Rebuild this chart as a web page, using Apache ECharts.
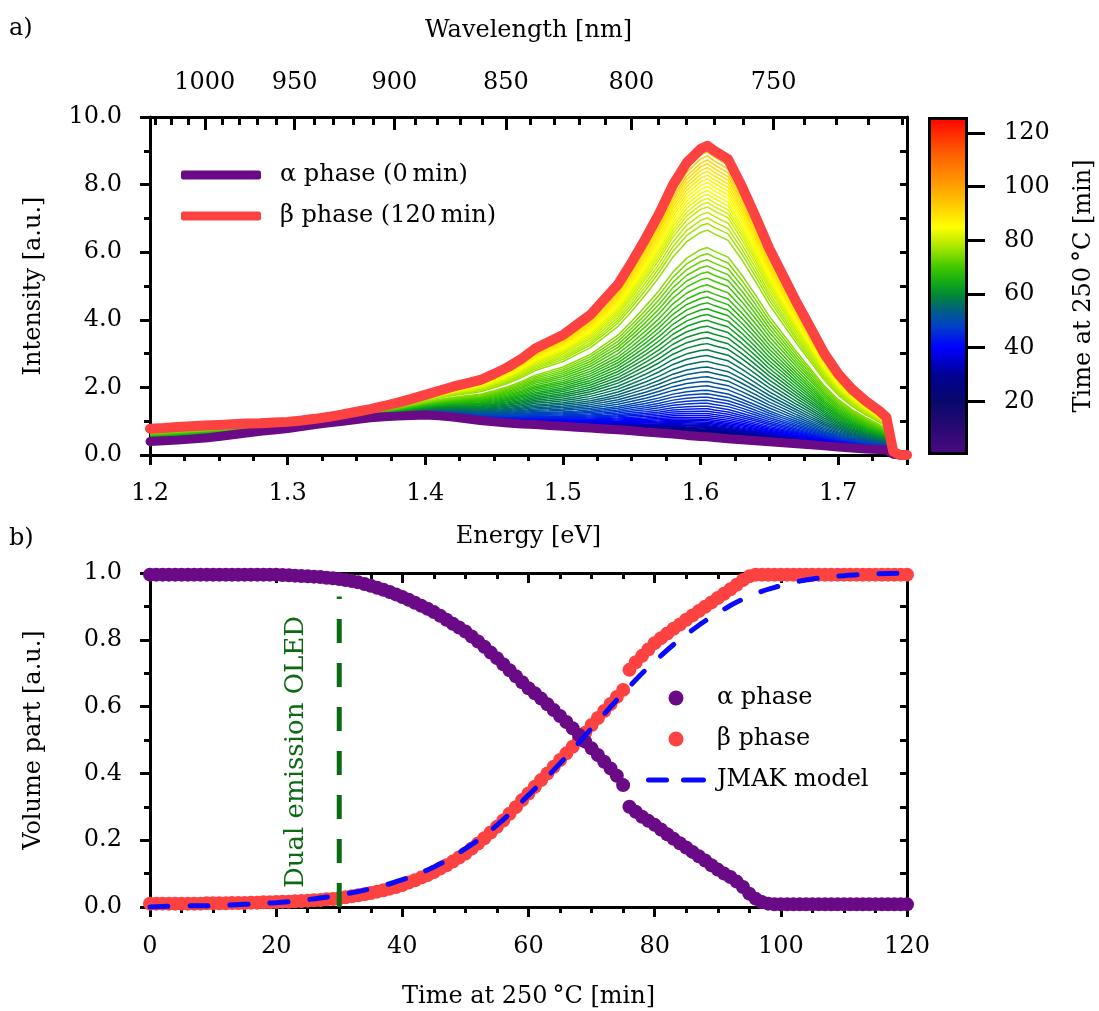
<!DOCTYPE html>
<html><head><meta charset="utf-8">
<script src="https://cdn.jsdelivr.net/npm/echarts@6/dist/echarts.min.js"></script>
<style>html,body{margin:0;padding:0;background:#fff}#c{width:1099px;height:1011px}</style>
</head><body><div id="c"></div>
<script>
// ---------- data ----------
const energy = [1.20,1.21,1.22,1.23,1.24,1.25,1.26,1.27,1.28,1.29,1.30,1.31,1.32,1.33,1.34,1.35,1.36,1.37,1.38,1.39,1.40,1.41,1.42,1.43,1.44,1.45,1.46,1.47,1.48,1.49,1.50,1.51,1.52,1.53,1.54,1.55,1.56,1.57,1.58,1.59,1.60,1.605,1.61,1.62,1.63,1.64,1.65,1.66,1.67,1.68,1.69,1.70,1.71,1.72,1.73,1.735,1.74,1.745,1.75];
const alphaSpectrum = [0.40,0.42,0.44,0.47,0.50,0.55,0.60,0.65,0.70,0.74,0.78,0.84,0.90,0.95,1.00,1.05,1.10,1.13,1.15,1.17,1.18,1.16,1.12,1.07,1.02,0.98,0.95,0.92,0.90,0.87,0.85,0.82,0.80,0.77,0.75,0.72,0.68,0.65,0.62,0.58,0.55,0.54,0.52,0.48,0.45,0.42,0.39,0.36,0.33,0.30,0.27,0.24,0.21,0.18,0.16,0.15,0.02,0.00,0.00];
const betaSpectrum = [0.78,0.80,0.83,0.85,0.87,0.89,0.91,0.93,0.94,0.96,0.98,1.02,1.07,1.13,1.20,1.28,1.36,1.45,1.55,1.66,1.78,1.90,2.02,2.12,2.22,2.40,2.60,2.85,3.15,3.35,3.55,3.85,4.15,4.60,5.05,5.70,6.40,7.15,8.00,8.65,9.05,9.15,9.00,8.75,7.95,7.05,6.10,5.30,4.50,3.75,3.00,2.40,1.95,1.60,1.30,1.12,0.10,0.00,0.00];

const times = [0,1,2,3,4,5,6,7,8,9,10,11,12,13,14,15,16,17,18,19,20,21,22,23,24,25,26,27,28,29,30,31,32,33,34,35,36,37,38,39,40,41,42,43,44,45,46,47,48,49,50,51,52,53,54,55,56,57,58,59,60,61,62,63,64,65,66,67,68,69,70,71,72,73,74,75,76,77,78,79,80,81,82,83,84,85,86,87,88,89,90,91,92,93,94,95,96,97,98,99,100,101,102,103,104,105,106,107,108,109,110,111,112,113,114,115,116,117,118,119,120];
const alphaPart = [0.995,0.995,0.995,0.995,0.995,0.995,0.995,0.995,0.995,0.995,0.995,0.995,0.995,0.995,0.995,0.995,0.995,0.995,0.995,0.995,0.995,0.994,0.993,0.992,0.991,0.990,0.989,0.988,0.986,0.984,0.982,0.979,0.976,0.972,0.967,0.962,0.956,0.950,0.943,0.936,0.928,0.920,0.911,0.902,0.893,0.883,0.872,0.860,0.848,0.837,0.825,0.810,0.795,0.779,0.762,0.745,0.727,0.709,0.691,0.673,0.655,0.640,0.624,0.607,0.590,0.572,0.554,0.535,0.515,0.495,0.475,0.455,0.435,0.415,0.393,0.365,0.300,0.285,0.270,0.258,0.246,0.232,0.218,0.204,0.191,0.178,0.165,0.152,0.139,0.125,0.112,0.100,0.090,0.076,0.060,0.040,0.025,0.015,0.010,0.008,0.008,0.008,0.008,0.008,0.008,0.008,0.008,0.008,0.008,0.008,0.008,0.008,0.008,0.008,0.008,0.008,0.008,0.008,0.008,0.008,0.008];
const betaPart = [0.010,0.010,0.010,0.010,0.010,0.010,0.010,0.010,0.010,0.011,0.011,0.011,0.011,0.012,0.012,0.012,0.013,0.013,0.014,0.014,0.015,0.016,0.016,0.017,0.018,0.019,0.020,0.021,0.023,0.024,0.026,0.029,0.032,0.035,0.038,0.042,0.046,0.050,0.055,0.060,0.066,0.073,0.080,0.088,0.096,0.105,0.115,0.125,0.136,0.148,0.160,0.175,0.190,0.206,0.223,0.240,0.259,0.279,0.299,0.320,0.340,0.360,0.380,0.400,0.420,0.440,0.460,0.480,0.500,0.522,0.545,0.566,0.587,0.608,0.629,0.650,0.710,0.733,0.752,0.771,0.790,0.805,0.819,0.833,0.846,0.860,0.873,0.886,0.899,0.912,0.925,0.938,0.951,0.965,0.979,0.990,0.995,0.995,0.995,0.995,0.995,0.995,0.995,0.995,0.995,0.995,0.995,0.995,0.995,0.995,0.995,0.995,0.995,0.995,0.995,0.995,0.995,0.995,0.995,0.995,0.995];

const jmakTimes = [0,5,10,15,20,25,30,35,40,45,50,55,60,65,70,75,80,85,90,95,100,105,110,115,120];
const jmakValues = [0.000,0.003,0.004,0.008,0.013,0.022,0.036,0.055,0.082,0.120,0.175,0.245,0.335,0.430,0.535,0.640,0.735,0.815,0.880,0.930,0.962,0.982,0.992,0.997,1.000];

const wavelengthLabels = [1000,950,900,850,800,750];
const wavelengthMinor = [1030,1020,1010,990,980,970,960,940,930,920,910,890,880,870,860,840,830,820,810,790,780,770,760,740,730,720,710];
const colorbarTicks = [20,40,60,80,100,120];
const oledTime = [30, 30];
const oledLevel = [0, 0.93];

// ---------- styling ----------
const EV_NM = 1239.84;
const FONT = 'DejaVu Serif';
const FS = 24;
const PURPLE = '#6b0a86', RED = '#fd4242', BLUE = '#0a0aff', GREEN = '#0b6b12';
const CMAP_MIN = 0, CMAP_MAX = 126;
const cmap = [
  [0,'#4b0a80'],[20,'#08086a'],[30,'#000095'],[40,'#0000ff'],[48,'#0040c8'],[54,'#006080'],
  [59,'#00843c'],[64,'#10a818'],[70,'#40c800'],[78,'#b0e800'],[85,'#ffff00'],[95,'#ffc000'],
  [102,'#ff9600'],[112,'#ff6000'],[126,'#ff0000']
];
function hex2rgb(h){return [parseInt(h.slice(1,3),16),parseInt(h.slice(3,5),16),parseInt(h.slice(5,7),16)];}
function colorAt(v){
  if (v <= cmap[0][0]) return cmap[0][1];
  for (let i=1;i<cmap.length;i++){
    if (v <= cmap[i][0]){
      const a=cmap[i-1], b=cmap[i]; const f=(v-a[0])/(b[0]-a[0]);
      const ca=hex2rgb(a[1]), cb=hex2rgb(b[1]);
      return 'rgb('+ca.map((c,k)=>Math.round(c+(cb[k]-c)*f)).join(',')+')';
    }
  }
  return cmap[cmap.length-1][1];
}

const txt = {fontFamily: FONT, fontSize: FS, color: '#000'};
const axLine = {show: true, onZero: false, lineStyle: {color: '#000', width: 3}};
const tickStyle = {color: '#000', width: 3};
const dashIcon = 'path://M2.5,0h18a2.5,2.5 0 0 1 0,5h-18a2.5,2.5 0 0 1 0,-5z M37.5,0h20a2.5,2.5 0 0 1 0,5h-20a2.5,2.5 0 0 1 0,-5z';

const series = [];
// spectra, one per time step
times.forEach((t, k) => {
  series.push({
    type: 'line', xAxisIndex: 0, yAxisIndex: 0, silent: true, symbol: 'none', z: 2,
    data: energy.map((e, i) => [e, alphaSpectrum[i] + betaPart[k] * (betaSpectrum[i] - alphaSpectrum[i])]),
    lineStyle: {width: 1.5, color: colorAt(t)}
  });
});
series.push({
  name: 'α phase (0\u2009min)', type: 'line', xAxisIndex: 0, yAxisIndex: 0, symbol: 'none', z: 3, color: PURPLE,
  data: energy.map((e, i) => [e, alphaSpectrum[i]]),
  lineStyle: {width: 9, color: PURPLE, cap: 'round', join: 'round'}
});
series.push({
  name: 'β phase (120\u2009min)', type: 'line', xAxisIndex: 0, yAxisIndex: 0, symbol: 'none', z: 4, color: RED,
  data: energy.map((e, i) => [e, betaSpectrum[i]]),
  lineStyle: {width: 10, color: RED, cap: 'round', join: 'round'}
});
// panel b
series.push({
  name: 'β phase', type: 'scatter', xAxisIndex: 3, yAxisIndex: 2, symbolSize: 14, z: 2, color: RED,
  data: times.map((t, i) => [t, betaPart[i]]), itemStyle: {color: RED, opacity: 1}
});
series.push({
  name: 'α phase', type: 'scatter', xAxisIndex: 3, yAxisIndex: 2, symbolSize: 14, z: 3, color: PURPLE,
  data: times.map((t, i) => [t, alphaPart[i]]), itemStyle: {color: PURPLE, opacity: 1}
});
series.push({
  name: 'JMAK model', type: 'line', xAxisIndex: 3, yAxisIndex: 2, symbol: 'none', smooth: true, z: 4, color: BLUE,
  data: jmakTimes.map((t, i) => [t, jmakValues[i]]),
  itemStyle: {color: BLUE},
  lineStyle: {width: 5, color: BLUE, type: [18, 22], cap: 'round'}
});
series.push({
  type: 'line', xAxisIndex: 3, yAxisIndex: 2, symbol: 'none', z: 5, silent: true,
  data: oledTime.map((t, i) => [t, oledLevel[i]]),
  lineStyle: {width: 5, color: GREEN, type: [24, 20]}
});
// colorbar
series.push({
  type: 'bar', xAxisIndex: 5, yAxisIndex: 4, silent: true, barWidth: '100%',
  data: [CMAP_MAX],
  itemStyle: {
    borderColor: '#000', borderWidth: 3,
    color: {type: 'linear', x: 0, y: 1, x2: 0, y2: 0,
      colorStops: cmap.map(s => ({offset: (s[0] - CMAP_MIN) / (CMAP_MAX - CMAP_MIN), color: s[1]}))}
  }
});

const option = {
  animation: false,
  backgroundColor: '#fff',
  textStyle: {fontFamily: FONT},
  grid: [
    {left: 150, top: 117, width: 757, height: 338},
    {left: 150, top: 573, width: 757, height: 334},
    {left: 928, top: 117, width: 40, height: 338},
    {left: 150, top: 117, width: 757, height: 338}
  ],
  xAxis: [
    {gridIndex: 0, type: 'value', position: 'bottom', min: 1.2, max: 1.75, interval: 0.1,
      axisLine: axLine, axisTick: {show: true, inside: false, length: 10, lineStyle: tickStyle},
      minorTick: {show: true, splitNumber: 4, length: 6, lineStyle: tickStyle},
      axisLabel: {...txt, margin: 27, showMaxLabel: false, formatter: v => v.toFixed(1)},
      splitLine: {show: false}, minorSplitLine: {show: false},
      name: 'Energy [eV]', nameLocation: 'middle', nameGap: 70, nameTextStyle: txt},
    {gridIndex: 0, type: 'value', position: 'top', min: 1.2, max: 1.75,
      axisLine: axLine,
      axisTick: {show: true, inside: true, length: 13, lineStyle: tickStyle, customValues: wavelengthLabels.map(w => EV_NM / w)},
      axisLabel: {...txt, margin: 22, customValues: wavelengthLabels.map(w => EV_NM / w), formatter: v => String(Math.round(EV_NM / v))},
      splitLine: {show: false},
      name: 'Wavelength [nm]', nameLocation: 'middle', nameGap: 74, nameTextStyle: txt},
    {gridIndex: 3, type: 'value', position: 'top', min: 1.2, max: 1.75,
      axisLine: axLine,
      axisTick: {show: true, inside: true, length: 8, lineStyle: tickStyle, customValues: wavelengthMinor.map(w => EV_NM / w)},
      axisLabel: {show: false}, splitLine: {show: false}},
    {gridIndex: 1, type: 'value', position: 'bottom', min: 0, max: 120, interval: 20,
      axisLine: axLine, axisTick: {show: true, inside: false, length: 10, lineStyle: tickStyle},
      minorTick: {show: true, splitNumber: 4, length: 6, lineStyle: tickStyle},
      axisLabel: {...txt, margin: 28},
      splitLine: {show: false},
      name: 'Time at 250\u2009°C [min]', nameLocation: 'middle', nameGap: 78, nameTextStyle: txt},
    {gridIndex: 1, type: 'value', position: 'top', min: 0, max: 120, interval: 20,
      axisLine: axLine, axisTick: {show: true, inside: true, length: 10, lineStyle: tickStyle},
      minorTick: {show: true, splitNumber: 4, length: 6, lineStyle: tickStyle},
      axisLabel: {show: false}, splitLine: {show: false}},
    {gridIndex: 2, type: 'category', data: ['c'], show: false}
  ],
  yAxis: [
    {gridIndex: 0, type: 'value', position: 'left', min: 0, max: 10, interval: 2,
      axisLine: axLine, axisTick: {show: true, inside: false, length: 10, lineStyle: tickStyle},
      minorTick: {show: true, splitNumber: 2, length: 6, lineStyle: tickStyle},
      axisLabel: {...txt, margin: 28, formatter: v => v.toFixed(1)},
      splitLine: {show: false},
      name: 'Intensity [a.u.]', nameLocation: 'middle', nameGap: 104, nameTextStyle: txt},
    {gridIndex: 0, type: 'value', position: 'right', min: 0, max: 10, interval: 1,
      axisLine: axLine, axisTick: {show: true, inside: true, length: 7, lineStyle: tickStyle},
      axisLabel: {show: false}, splitLine: {show: false}},
    {gridIndex: 1, type: 'value', position: 'left', min: 0, max: 1, interval: 0.2,
      axisLine: axLine, axisTick: {show: true, inside: false, length: 10, lineStyle: tickStyle},
      minorTick: {show: true, splitNumber: 2, length: 6, lineStyle: tickStyle},
      axisLabel: {...txt, margin: 28, formatter: v => v.toFixed(1)},
      splitLine: {show: false},
      name: 'Volume part [a.u.]', nameLocation: 'middle', nameGap: 104, nameTextStyle: txt},
    {gridIndex: 1, type: 'value', position: 'right', min: 0, max: 1, interval: 0.1,
      axisLine: axLine, axisTick: {show: true, inside: true, length: 7, lineStyle: tickStyle},
      axisLabel: {show: false}, splitLine: {show: false}},
    {gridIndex: 2, type: 'value', position: 'right', min: CMAP_MIN, max: CMAP_MAX,
      axisLine: {show: false},
      axisTick: {show: true, inside: false, length: 17, lineStyle: tickStyle, customValues: colorbarTicks},
      axisLabel: {...txt, margin: 36, customValues: colorbarTicks},
      splitLine: {show: false},
      name: 'Time at 250\u2009°C [min]', nameLocation: 'middle', nameGap: 104, nameTextStyle: txt},
    {gridIndex: 3, type: 'value', min: 0, max: 10, show: false}
  ],
  legend: [
    {data: ['α phase (0\u2009min)', 'β phase (120\u2009min)'], orient: 'vertical', left: 176, top: 158,
      itemWidth: 80, itemHeight: 9, itemGap: 17, icon: 'roundRect',
      textStyle: {...txt, padding: [0, 0, 0, 14]}, selectedMode: false},
    {data: [{name: 'α phase', icon: 'circle'}, {name: 'β phase', icon: 'circle'}, {name: 'JMAK model', icon: dashIcon}],
      orient: 'vertical', left: 641, top: 681,
      itemWidth: 60, itemHeight: 15, itemGap: 17,
      textStyle: {...txt, padding: [0, 0, 0, 6]}, selectedMode: false}
  ],
  graphic: [
    {type: 'text', left: 9, top: 17, style: {text: 'a)', font: FS + 'px "' + FONT + '"', fill: '#000'}},
    {type: 'text', left: 9, top: 527, style: {text: 'b)', font: FS + 'px "' + FONT + '"', fill: '#000'}},
    {type: 'text', x: 296, y: 752, rotation: Math.PI / 2,
      style: {text: 'Dual emission OLED', font: '26px "' + FONT + '"', fill: GREEN, align: 'center', verticalAlign: 'middle'}}
  ],
  series: series
};
const chart = echarts.init(document.getElementById('c'), null, {renderer: 'canvas'});
chart.setOption(option);
</script>
</body></html>
